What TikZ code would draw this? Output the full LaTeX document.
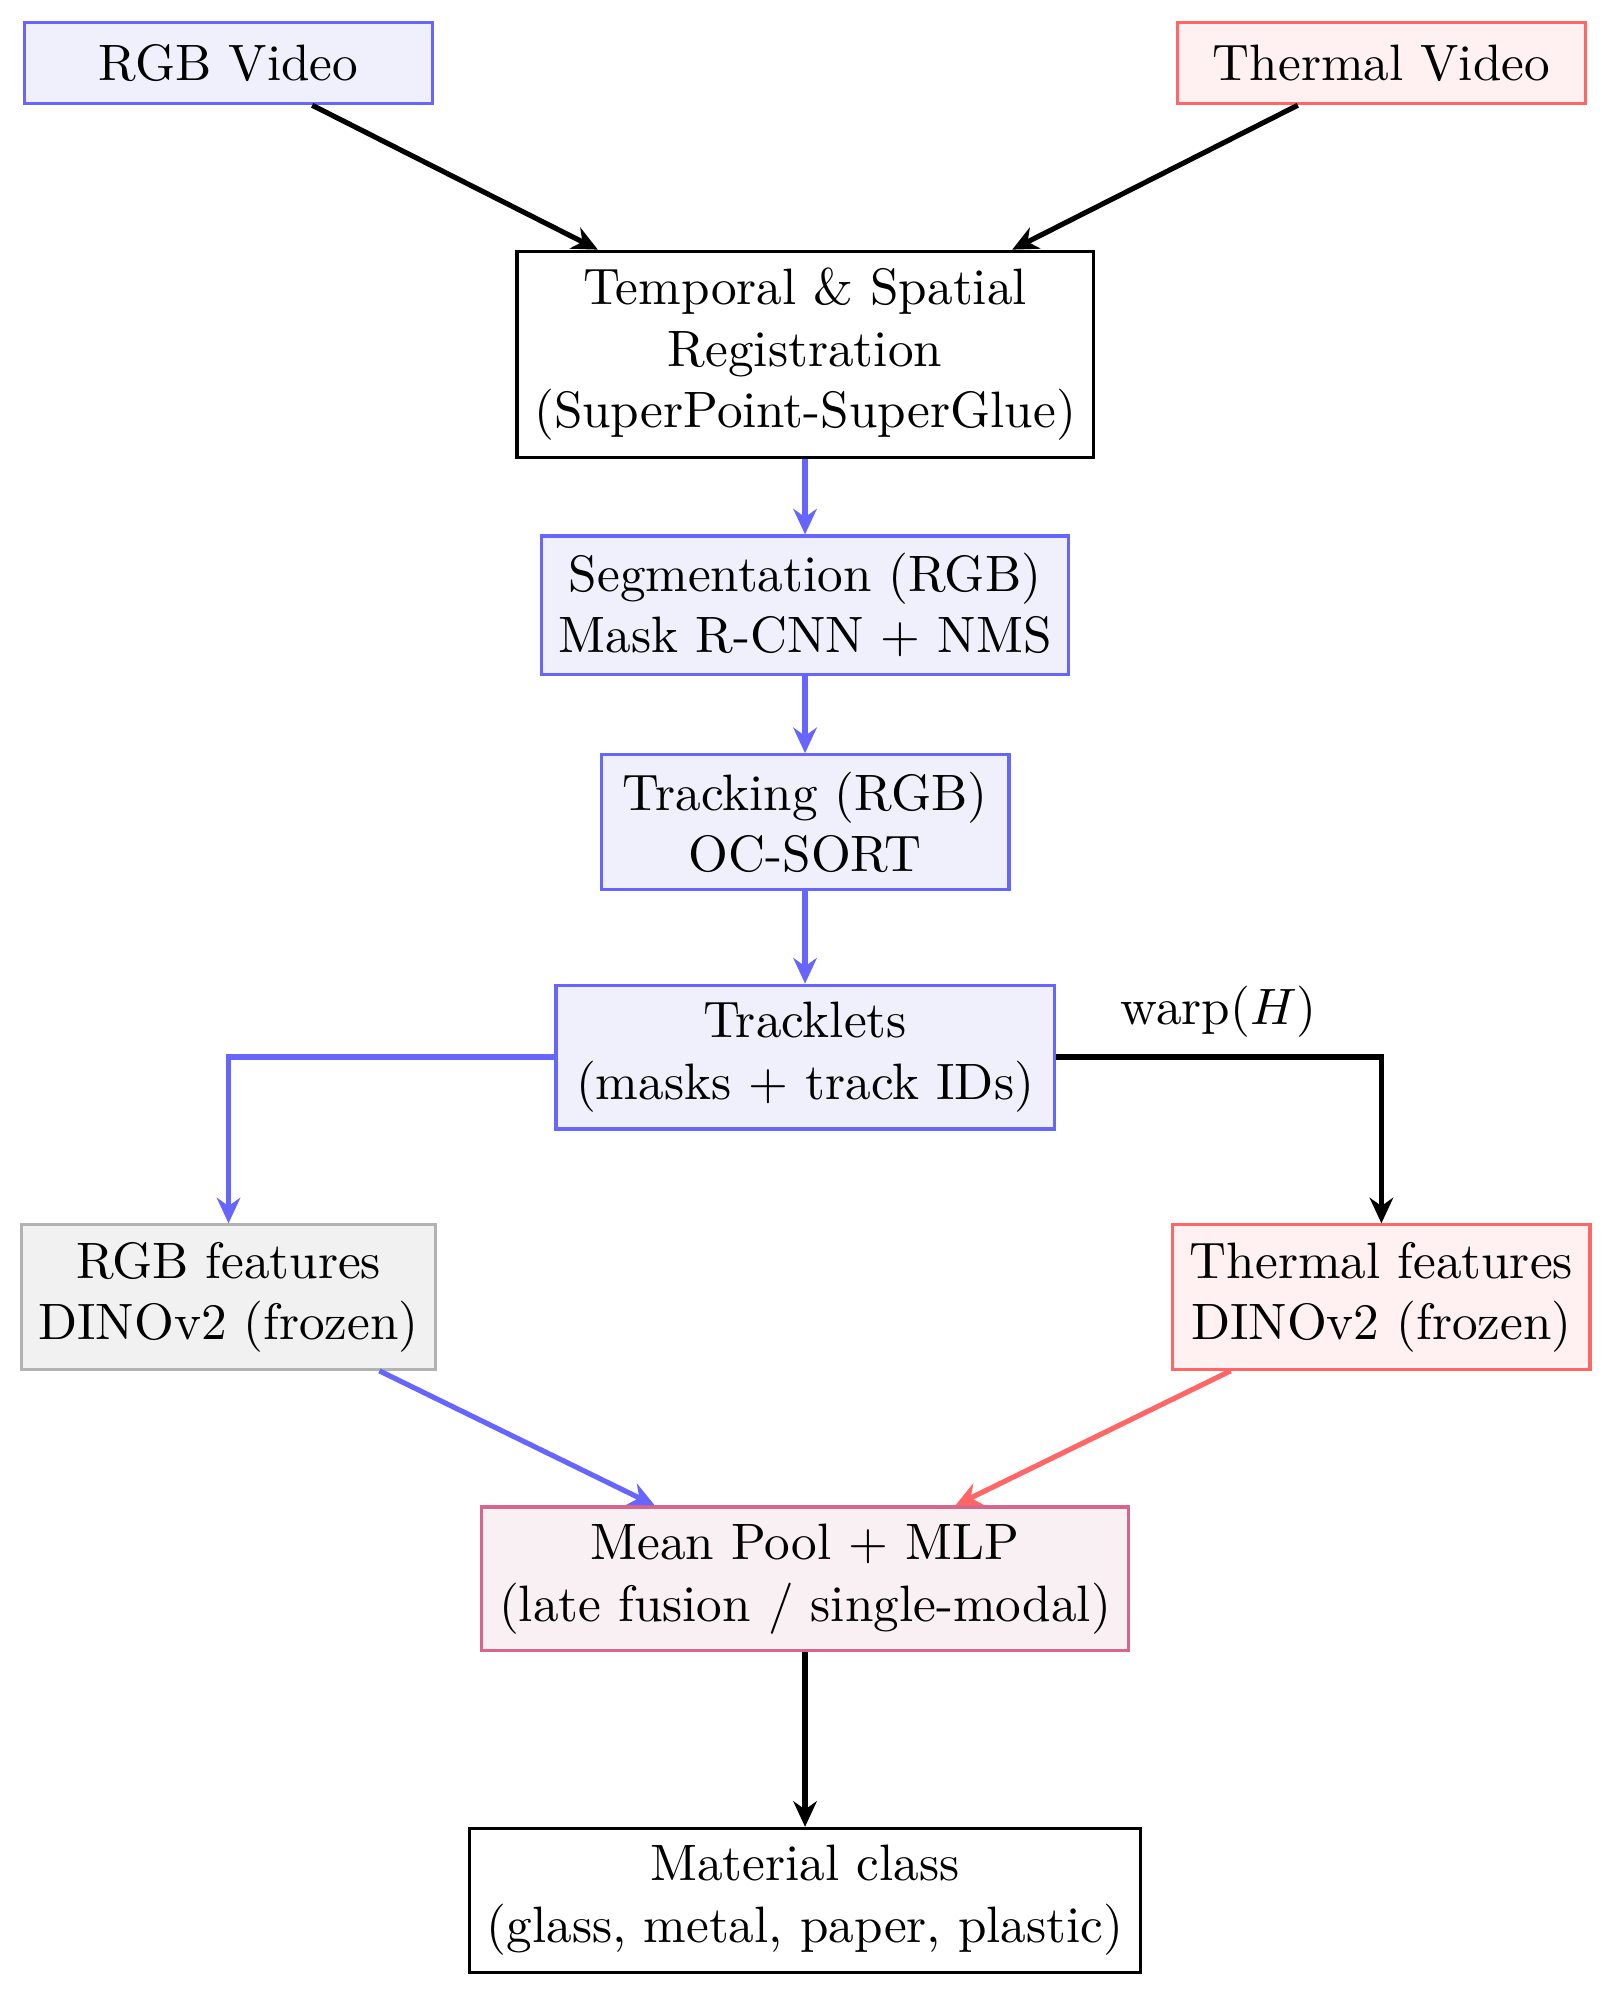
\documentclass[tikz,border=0pt]{standalone}
\usetikzlibrary{arrows.meta}

\begin{document}
\begin{tikzpicture}[>={Stealth[length=5pt,width=4.6pt]},line width=1pt,
  box/.style={draw,semithick,align=center,minimum width=2.8cm,minimum height=0.56cm},
  rgbbox/.style={box,draw=rgbcolor,fill=rgbfill},
  thermbox/.style={box,draw=thermcolor,fill=thermfill},
  featbox/.style={box,draw=featcolor,fill=featfill},
  fusebox/.style={box,draw=fusecolor,fill=fusefill}]
\definecolor{rgbcolor}{RGB}{102,102,255}
\definecolor{rgbfill}{RGB}{240,240,252}
\definecolor{thermcolor}{RGB}{255,102,102}
\definecolor{thermfill}{RGB}{255,241,241}
\definecolor{featcolor}{RGB}{178,178,178}
\definecolor{featfill}{RGB}{241,241,241}
\definecolor{fusecolor}{RGB}{216,102,140}
\definecolor{fusefill}{RGB}{249,240,243}

% Page frame, origin at the top left corner.
\useasboundingbox (0,0) rectangle (11.062,-13.669);

% Two input streams.
\node[rgbbox] (rgbvid) at (1.569,-0.432) {RGB Video};
\node[thermbox] (thvid) at (9.484,-0.432) {Thermal Video};

% Alignment, then the RGB-only stages.
\node[box] (reg) at (5.527,-2.433)
  {Temporal \& Spatial\\Registration\\(SuperPoint-SuperGlue)};
\node[rgbbox] (seg) at (5.527,-4.154) {Segmentation (RGB)\\Mask R-CNN + NMS};
\node[rgbbox] (track) at (5.527,-5.645) {Tracking (RGB)\\OC-SORT};
\node[rgbbox,minimum width=3.42cm] (tracklets) at (5.527,-7.257)
  {Tracklets\\(masks + track IDs)};

% Per-modality features.
\node[featbox] (rgbfeat) at (1.569,-8.905) {RGB features\\DINOv2 (frozen)};
\node[thermbox] (thfeat) at (9.484,-8.905) {Thermal features\\DINOv2 (frozen)};

% Classifier and output.
\node[fusebox] (fuse) at (5.527,-10.840)
  {Mean Pool + MLP\\(late fusion / single-modal)};
\node[box] (cls) at (5.527,-13.046)
  {Material class\\(glass, metal, paper, plastic)};

% Connectors.
\draw[->] (rgbvid) -- (reg);
\draw[->] (thvid) -- (reg);
\draw[->,rgbcolor] (reg) -- (seg);
\draw[->,rgbcolor] (seg) -- (track);
\draw[->,rgbcolor] (track) -- (tracklets);
\draw[->,rgbcolor] (tracklets) -| (rgbfeat);
\draw[->] (tracklets) -| node[pos=0.25,above] {warp($H$)} (thfeat);
\draw[->,rgbcolor] (rgbfeat) -- (fuse);
\draw[->,thermcolor] (thfeat) -- (fuse);
\draw[->] (fuse) -- (cls);
\end{tikzpicture}
\end{document}
